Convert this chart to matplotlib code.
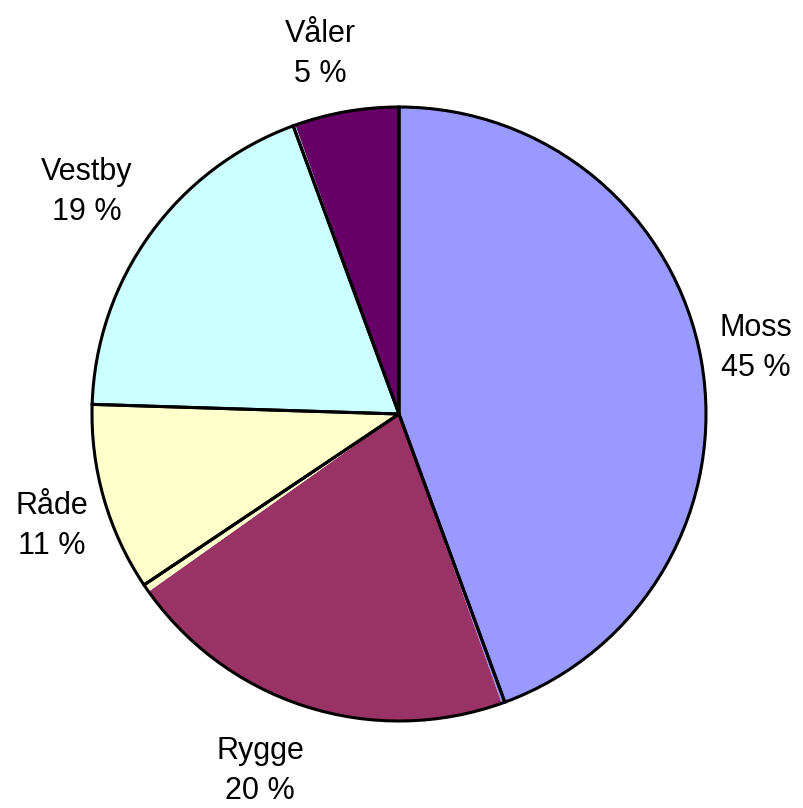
import matplotlib
matplotlib.use("Agg")
import matplotlib.pyplot as plt

plt.rcParams['font.family'] = ['Liberation Sans', 'DejaVu Sans']

#---------- Data ----------#

kommuner = ['Moss', 'Rygge', 'Råde', 'Vestby', 'Våler']
andel = [44.4, 21.2, 9.9, 18.9, 5.6]
prosent_tekst = ['45 %', '20 %', '11 %', '19 %', '5 %']
farger = ['#9999FF', '#993366', '#FFFFCC', '#CCFFFF', '#660066']

# small rendering offsets of the fill at each slice boundary (percent units)
fyll_avvik = [0.17, -0.42, 0.0, 0.12]

# label centres in pixel coordinates of the 804x808 picture
etikett_px = [(756, 348), (260, 771), (52, 526), (87, 192), (320, 54)]

#---------- Figure ----------#

W, H = 804, 808
cx, cy, r = 399, 414, 307

fig = plt.figure(figsize=(W / 100, H / 100), dpi=100)
ax = fig.add_axes([(cx - r) / W, (H - cy - r) / H, 2 * r / W, 2 * r / H])

fyll = list(andel)
for i, d in enumerate(fyll_avvik):
    fyll[i] += d
    fyll[i + 1] -= d

ax.pie(fyll, colors=farger, startangle=90, counterclock=False,
       wedgeprops=dict(linewidth=0, edgecolor='none'))
ax.pie(andel, colors=['none'] * len(andel), startangle=90, counterclock=False,
       wedgeprops=dict(linewidth=2.2, edgecolor='black', facecolor='none'))

ax.set_xlim(-1, 1)
ax.set_ylim(-1, 1)
ax.set_aspect('equal')
ax.axis('off')

for navn, pst, (px, py) in zip(kommuner, prosent_tekst, etikett_px):
    ax.text((px - cx) / r, (cy - py) / r, navn + '\n' + pst,
            ha='center', va='center', fontsize=22, linespacing=1.45,
            clip_on=False)

plt.savefig('out.png', dpi=100)
